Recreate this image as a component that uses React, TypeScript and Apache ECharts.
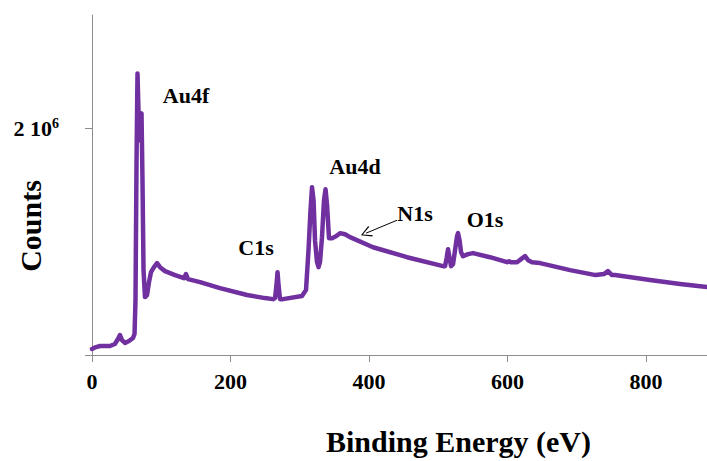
import React, { useEffect, useRef } from "react";
import * as echarts from "echarts";

const energy = [
  0, 5.8, 11.6, 26, 33, 37.5, 40.4, 43.3, 47.7, 53.4, 59.2, 61.4, 62.8, 64.3, 65.7, 67.1, 68.6, 70.0, 71.5, 72.9,
  74.4, 76.5, 79.4, 82.3, 85.2, 89.5, 93.9, 98.2, 105.4, 119.9, 132.8, 135.7, 138.6, 156, 184.8, 223.8, 249.8,
  261.4, 264.3, 266.4, 267.9, 269.3, 271.5, 275.8, 303.2, 309, 312.6, 315.5, 317.7, 319.9, 322, 324.9, 327.1,
  329.2, 332.1, 335, 337.2, 339.4, 342.2, 346.6, 352.3, 358.1, 365.3, 372.6, 405.8, 454.9, 506.9, 509.8, 512,
  514.1, 516.3, 518.4, 521.3, 524.2, 527.1, 528.5, 530.7, 532.9, 535.7, 543, 550.2, 574.7, 599.3, 602.2, 605,
  613.7, 619.5, 625.3, 629.6, 635.4, 647, 690.3, 727.2, 739.2, 745, 750.8, 755.2, 805.8, 849.1, 888,
];

const counts = [
  53000, 70000, 79000, 79000, 97000, 141000, 176000, 132000, 106000, 123000, 150000, 185000, 485000, 1718000,
  2484000, 2158000, 1894000, 2088000, 2132000, 1542000, 749000, 511000, 529000, 643000, 731000, 775000, 811000,
  775000, 740000, 705000, 678000, 714000, 670000, 643000, 590000, 529000, 502000, 493000, 502000, 617000, 731000,
  617000, 493000, 493000, 520000, 573000, 925000, 1277000, 1480000, 1366000, 1013000, 819000, 775000, 819000,
  1040000, 1366000, 1462000, 1322000, 1031000, 1031000, 1048000, 1075000, 1066000, 1040000, 951000, 863000,
  784000, 784000, 855000, 934000, 855000, 784000, 802000, 925000, 1048000, 1075000, 1013000, 907000, 872000,
  890000, 899000, 863000, 819000, 828000, 819000, 819000, 846000, 872000, 837000, 819000, 811000, 749000, 705000,
  714000, 740000, 705000, 705000, 661000, 626000, 599000,
];

const peakNames = ["Au4f", "Au4d", "C1s", "N1s", "O1s"];
const peakLabelX = [135.7, 379.8, 236.8, 466.4, 567.5];
const peakLabelY = [2291000, 1665000, 951000, 1251000, 1198000];

const arrowFrom = [440.4, 1189000];
const arrowTo = [395.7, 1075000];

const xTicks = [0, 200, 400, 600, 800];
const yTickValues = [0, 2000000];
const yLabelValues = [2000000];

const FONT = "'Liberation Serif', 'Times New Roman', serif";

export default function App() {
  const ref = useRef<HTMLDivElement>(null);

  useEffect(() => {
    document.body.style.margin = "0";
    const chart = echarts.init(ref.current!, null, { renderer: "svg" });
    const lineData = energy.map((e, i) => [e, counts[i]]);
    const labelData = peakNames.map((n, i) => ({ value: [peakLabelX[i], peakLabelY[i]], name: n }));

    chart.setOption({
      animation: false,
      backgroundColor: "#ffffff",
      grid: { left: 92, right: 0, top: 15, bottom: 106, containLabel: false },
      xAxis: {
        type: "value",
        min: 0,
        max: 888,
        interval: 200,
        axisLine: { show: true, lineStyle: { color: "#8c8c8c", width: 1 } },
        axisTick: { show: true, length: 7, lineStyle: { color: "#8c8c8c" }, customValues: xTicks },
        axisLabel: {
          margin: 15,
          color: "#000",
          fontFamily: FONT,
          fontWeight: "bold",
          fontSize: 22,
          customValues: xTicks,
        },
        splitLine: { show: false },
      },
      yAxis: {
        type: "value",
        min: 0,
        max: 3000000,
        axisLine: { show: true, lineStyle: { color: "#8c8c8c", width: 1 } },
        axisTick: { show: true, length: 7, lineStyle: { color: "#8c8c8c" }, customValues: yTickValues },
        axisLabel: {
          margin: 33,
          customValues: yLabelValues,
          formatter: () => "{a|2 10}{s|6}",
          rich: {
            a: { fontFamily: FONT, fontWeight: "bold", fontSize: 22, color: "#000" },
            s: { fontFamily: FONT, fontWeight: "bold", fontSize: 14, color: "#000", padding: [0, 0, 10, 0] },
          },
        },
        splitLine: { show: false },
      },
      graphic: [
        {
          type: "text",
          left: 326,
          top: 426,
          style: { text: "Binding Energy (eV)", font: `bold 30px ${FONT}`, fill: "#000" },
        },
        {
          type: "text",
          x: 30,
          y: 226,
          rotation: Math.PI / 2,
          style: {
            text: "Counts",
            font: `bold 30px ${FONT}`,
            fill: "#000",
            align: "center",
            verticalAlign: "middle",
          },
        },
      ],
      series: [
        {
          type: "line",
          data: lineData,
          showSymbol: false,
          symbol: "none",
          smooth: false,
          lineStyle: { color: "#7030A0", width: 4.5, join: "round", cap: "round" },
          markLine: {
            silent: true,
            symbol: ["none", "path://M0 0L6 10L5 11L0 2L-5 11L-6 10Z"],
            symbolSize: [11, 11],
            label: { show: false },
            lineStyle: { color: "#000", width: 1, type: "solid" },
            data: [[{ coord: arrowFrom }, { coord: arrowTo }]],
          },
        },
        {
          type: "scatter",
          data: labelData,
          symbolSize: 0,
          silent: true,
          itemStyle: { opacity: 1, color: "rgba(0,0,0,0)" },
          label: {
            show: true,
            position: "inside",
            formatter: (p: any) => p.name,
            color: "#000",
            opacity: 1,
            textBorderWidth: 0,
            fontFamily: FONT,
            fontWeight: "bold",
            fontSize: 22,
          },
        },
      ],
    });
    return () => chart.dispose();
  }, []);

  return <div ref={ref} style={{ width: 707, height: 461 }} />;
}
